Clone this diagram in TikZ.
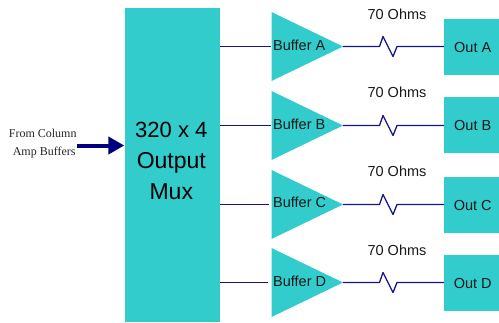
\documentclass[tikz,border=0pt]{standalone}
\usepackage{fontspec}
\setmainfont{Liberation Sans}
\newfontfamily\serifface{Liberation Serif}
\usetikzlibrary{arrows.meta}
\definecolor{tealfill}{RGB}{51,204,204}
\definecolor{wire}{RGB}{20,20,140}
\definecolor{arrowblue}{RGB}{0,0,128}
\tikzset{
  blockbox/.style={fill=tealfill,draw=none,inner sep=0pt,anchor=north west,text=black},
  sanslabel/.style={font=\fontsize{14.5}{16}\selectfont,text=black!90,inner sep=0pt},
  wireline/.style={draw=wire,line width=1.3pt},
  bufshape/.style={fill=tealfill,draw=none},
}
\newcommand{\bufferrow}[6]{% letter, center y, box top, label y, ohm y, input end x
  \coordinate (in#1) at (271.5,#2);
  \coordinate (tip#1) at (343,#2);
  \fill[bufshape] (271.5,#2-34.5) -- (tip#1) -- (271.5,#2+34.5) -- cycle;
  \node[sanslabel,anchor=west] (buf#1) at (273,#4) {Buffer #1};
  \node[blockbox,sanslabel,minimum width=55pt,minimum height=56pt] (out#1) at (444,#3) {\hspace*{2pt}Out #1};
  \node[sanslabel] (ohm#1) at (397,#5) {70 Ohms};
  \coordinate (ins#1) at (#6,#2);
  \draw[wireline] (mux.east |- in#1) -- (ins#1);
  \draw[wireline,line join=round] (tip#1) -- ++(36.5,0) -- ++(3.5,-10) -- ++(10,20) -- ++(4,-10) -- (out#1.west |- tip#1);
}
\begin{document}
\begin{tikzpicture}[x=1pt,y=-1pt]
  \useasboundingbox (0,0) rectangle (499,322);
  \node[blockbox,minimum width=95pt,minimum height=314pt] (mux) at (125,8) {};
  \node[inner sep=0pt,align=center,font=\fontsize{23}{31}\selectfont] (muxlabel) at (171.3,161) {{\fontsize{22}{31}\selectfont 320 x 4}\\Output\\Mux};
  \bufferrow{A}{46.5}{19}{45}{14}{271}
  \bufferrow{B}{125.5}{97}{124}{92}{271}
  \bufferrow{C}{204.5}{177}{202.5}{171}{269}
  \bufferrow{D}{282.5}{255}{281}{250}{268}
  \node[inner sep=0pt,align=center,text=black!85,font=\serifface\fontsize{12}{18}\selectfont] (src) at (42.7,143.8) {From Column\\\hspace*{3pt}Amp Buffers};
  \coordinate (arrowstart) at (77,145.5);
  \draw[arrowblue,line width=4pt,-{Triangle[length=16pt,width=17pt]},shorten >=0.7pt] (arrowstart) -- (mux.west |- arrowstart);
\end{tikzpicture}
\end{document}
